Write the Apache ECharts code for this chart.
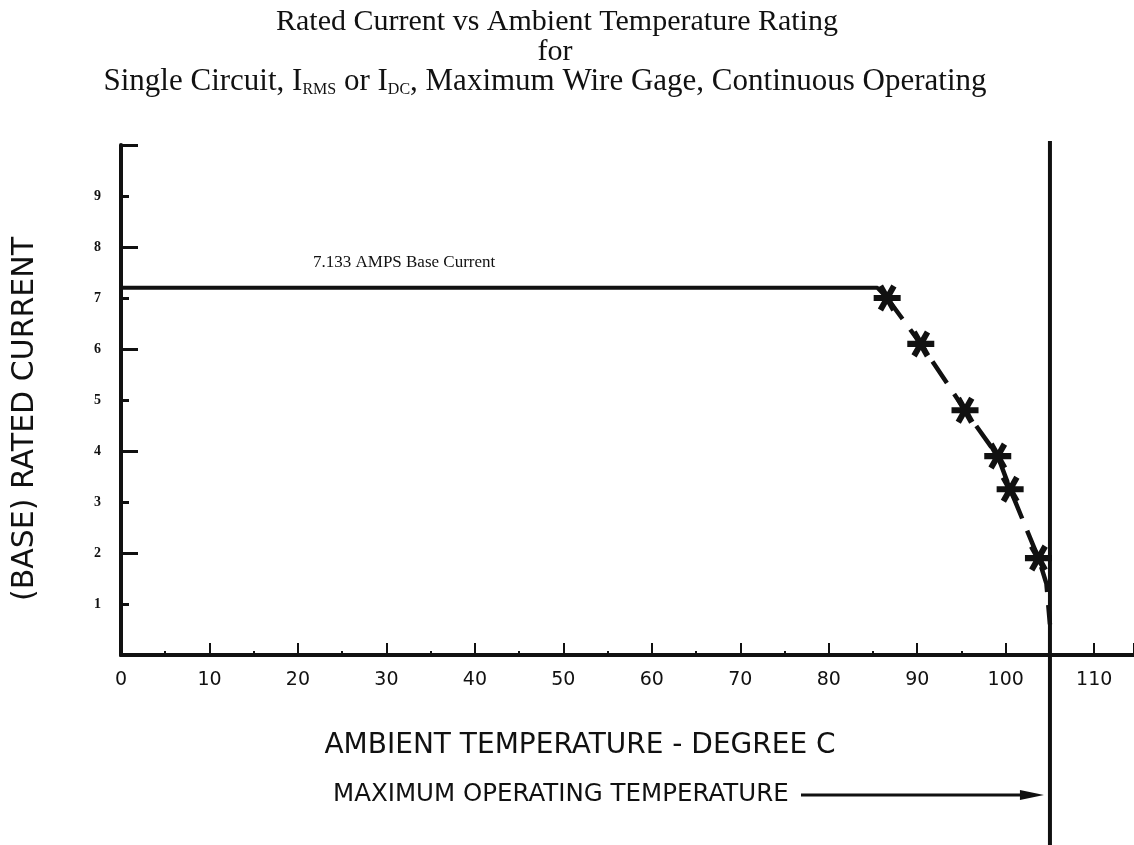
<!DOCTYPE html>
<html>
<head>
<meta charset="utf-8">
<title>Rated Current vs Ambient Temperature Rating</title>
<script src="https://cdn.jsdelivr.net/npm/echarts@6/dist/echarts.min.js"></script>
<style>
    html, body { margin: 0; padding: 0; background: #fff; }
    #main { width: 1134px; height: 845px; }
</style>
</head>
<body>
<div id="main"></div>
<script type="text/javascript">
    // values
    var baseCurrent = [[0, 7.2], [85.5, 7.2], [86.6, 7.0]];          // flat part, 7.133 A
    var deratePts = [[86.6, 7.0], [90.4, 6.1], [95.4, 4.8], [99.1, 3.9], [100.5, 3.25], [103.7, 1.9]];
    var derateTail = [[104.6, 1.4], [105, 0.6]];
    var maxTemp = 105;
    var xTickLabels = [0, 10, 20, 30, 40, 50, 60, 70, 80, 90, 100, 110];
    var yTickLabels = [1, 2, 3, 4, 5, 6, 7, 8, 9];

    var ink = '#111';
    var sans = 'DejaVu Sans';
    var serif = 'Liberation Serif';
    // asterisk marker
    var star = 'path://M-10,-2.2L10,-2.2L10,2.2L-10,2.2Z M-6.9,-7.56L-3.1,-9.76L6.9,7.56L3.1,9.76Z M-3.1,9.76L-6.9,7.56L3.1,-9.76L6.9,-7.56Z';

    var curve = deratePts.slice();
    derateTail.forEach(function (p) { curve.push({ value: p, symbol: 'none' }); });

    var myChart = echarts.init(document.getElementById('main'));

    var option = {
        backgroundColor: '#fff',
        animation: false,
        grid: { left: 121, top: 145, right: 0, bottom: 190 },
        xAxis: [{
            type: 'value', min: 0, max: 114.5, interval: 10,
            axisLine: { lineStyle: { color: ink, width: 4 } },
            axisTick: { inside: true, length: 12, lineStyle: { color: ink, width: 2 } },
            minorTick: { show: true, splitNumber: 2, length: 4, lineStyle: { color: ink, width: 2 } },
            splitLine: { show: false },
            axisLabel: {
                margin: 16, color: ink, fontFamily: sans, fontSize: 19, showMaxLabel: false,
                formatter: function (v) { return xTickLabels.indexOf(v) >= 0 ? String(v) : ''; }
            }
        }, {
            // top border
            type: 'value', position: 'top', min: 0, max: 114.5,
            axisLine: { show: true, lineStyle: { color: ink, width: 4 } },
            axisTick: { show: false }, axisLabel: { show: false }, splitLine: { show: false }
        }],
        yAxis: [{
            type: 'value', min: 0, max: 10, interval: 1,
            axisLine: { show: true, lineStyle: { color: ink, width: 4 } },
            axisTick: { inside: true, length: 8, lineStyle: { color: ink, width: 3 } },
            splitLine: { show: false },
            axisLabel: {
                margin: 20, color: ink, fontFamily: serif, fontWeight: 'bold', fontSize: 14,
                formatter: function (v) { return yTickLabels.indexOf(v) >= 0 ? String(v) : ''; }
            }
        }, {
            // long ticks on the even values
            type: 'value', position: 'left', min: 0, max: 10, interval: 2,
            axisLine: { show: false },
            axisTick: { show: true, inside: true, length: 17, lineStyle: { color: ink, width: 3 } },
            axisLabel: { show: false }, splitLine: { show: false }
        }],
        series: [{
            type: 'line', data: baseCurrent, symbol: 'none',
            lineStyle: { color: ink, width: 4 }
        }, {
            type: 'line', data: curve,
            symbol: star, symbolSize: 27,
            itemStyle: { color: ink },
            lineStyle: { color: ink, width: 4.5, type: [26, 13] }
        }]
    };
    myChart.setOption(option);

    // annotations placed from the axis scale
    var px = function (x, y) { return myChart.convertToPixel({ xAxisIndex: 0, yAxisIndex: 0 }, [x, y]); };
    var plotTop = px(0, 10), vline = px(maxTemp, 0);
    var baseLbl = px(21.7, 7.7);
    var arrowY = 795;

    myChart.setOption({
        graphic: [
            { type: 'text', x: 557, y: 22, style: { text: 'Rated Current vs Ambient Temperature Rating', font: '30px ' + serif, fill: ink, align: 'center', verticalAlign: 'middle' } },
            { type: 'text', x: 555, y: 52, style: { text: 'for', font: '30px ' + serif, fill: ink, align: 'center', verticalAlign: 'middle' } },
            {
                type: 'text', x: 545, y: 82, style: {
                    text: 'Single Circuit, I{s|RMS} or I{s|DC}, Maximum Wire Gage, Continuous Operating',
                    font: '31px ' + serif, fill: ink, align: 'center', verticalAlign: 'middle',
                    rich: { s: { fontSize: 16, fontFamily: serif, verticalAlign: 'bottom', padding: [12, 0, 0, 0] } }
                }
            },
            { type: 'text', x: 25, y: 419, rotation: Math.PI / 2, style: { text: '(BASE) RATED CURRENT', font: '30px ' + sans, fill: ink, align: 'center', verticalAlign: 'middle' } },
            { type: 'text', x: baseLbl[0], y: baseLbl[1], style: { text: '7.133 AMPS Base Current', font: '17px ' + serif, fill: ink, verticalAlign: 'middle' } },
            { type: 'text', x: 580, y: 746, style: { text: 'AMBIENT TEMPERATURE - DEGREE C', font: '28px ' + sans, fill: ink, align: 'center', verticalAlign: 'middle' } },
            { type: 'text', x: 333, y: arrowY, style: { text: 'MAXIMUM OPERATING TEMPERATURE', font: '24.5px ' + sans, fill: ink, verticalAlign: 'middle' } },
            { type: 'line', shape: { x1: vline[0], y1: plotTop[1] - 4, x2: vline[0], y2: 845 }, style: { stroke: ink, lineWidth: 4 } },
            { type: 'line', shape: { x1: 801, y1: arrowY, x2: vline[0] - 20, y2: arrowY }, style: { stroke: ink, lineWidth: 3 } },
            { type: 'polygon', shape: { points: [[vline[0] - 30, arrowY - 5], [vline[0] - 6, arrowY], [vline[0] - 30, arrowY + 5]] }, style: { fill: ink } }
        ]
    });
</script>
</body>
</html>
